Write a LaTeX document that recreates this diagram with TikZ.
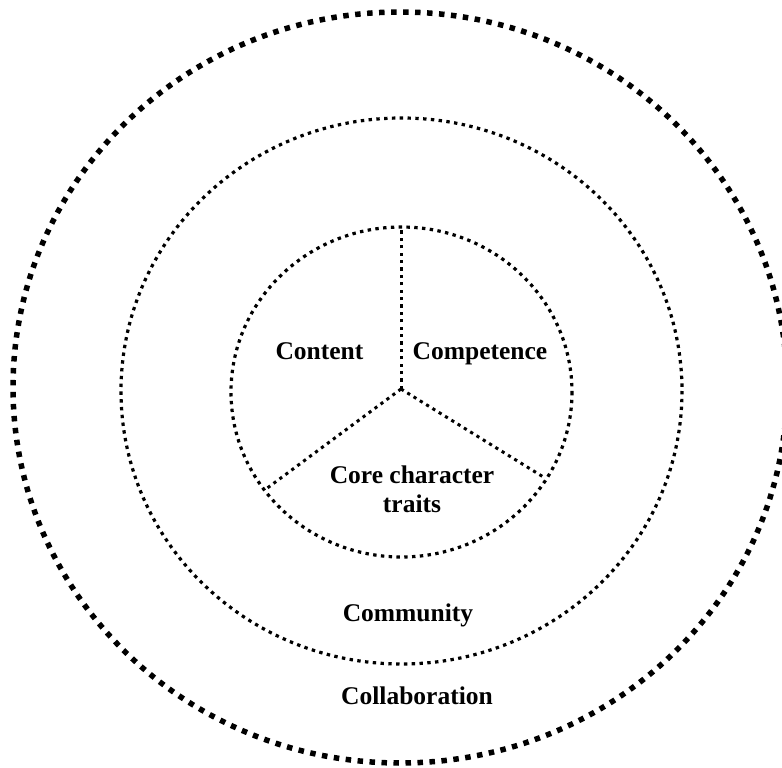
\documentclass[tikz,border=0pt]{standalone}
\usepackage{fontspec}
\setmainfont{Liberation Serif}
\usetikzlibrary{positioning}

\begin{document}
\begin{tikzpicture}[x=1pt,y=-1pt]
\tikzstyle{outerring}=[line width=5.5pt,dash pattern=on 5.5pt off 6.5pt]
\tikzstyle{ring}=[line width=3.2pt,dash pattern=on 3.4pt off 4.4pt]
\tikzstyle{spoke}=[line width=3pt,dash pattern=on 3.2pt off 4.2pt]
\tikzstyle{label}=[font=\fontsize{25.5}{29}\selectfont\bfseries,align=center,inner sep=0pt,anchor=base]
\useasboundingbox (0,0) rectangle (782,768);

% rings
\draw[outerring] (400,387.5) ellipse [x radius=387,y radius=375.5];
\draw[ring] (401.5,391) ellipse [x radius=280.5,y radius=273];
\draw[ring] (401.5,392) ellipse [x radius=170.5,y radius=165];

% spokes
\coordinate (hub) at (401,389);
\coordinate (top) at (401,227);
\coordinate (lowleft) at (266,489);
\coordinate (lowright) at (545,478);
\draw[spoke] (hub) -- (top);
\draw[spoke] (hub) -- (lowleft);
\draw[spoke] (hub) -- (lowright);

\node[label] (content) at (319.5,359) {Content};
\node[label] (comp) at (480,359) {Competence};
\node[label] (core) at (412,512) {Core character\\traits};
\node[label] (comm) at (408,621) {Community};
\node[label] (collab) at (417,704) {Collaboration};
\end{tikzpicture}
\end{document}
